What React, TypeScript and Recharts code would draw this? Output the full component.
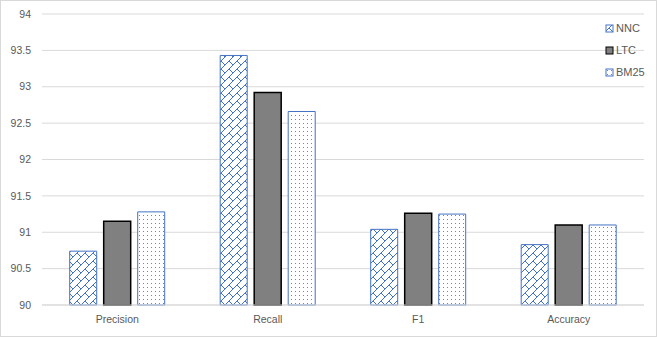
import React from 'react';
import { BarChart, Bar, XAxis, YAxis, CartesianGrid } from 'recharts';

const categories = ['Precision', 'Recall', 'F1', 'Accuracy'];
const nncValues = [90.74, 93.43, 91.04, 90.83];
const ltcValues = [91.15, 92.92, 91.26, 91.1];
const bm25Values = [91.28, 92.66, 91.25, 91.1];
const yTicks = [90, 90.5, 91, 91.5, 92, 92.5, 93, 93.5, 94];

const data = categories.map((name, i) => ({
    name,
    NNC: nncValues[i],
    LTC: ltcValues[i],
    BM25: bm25Values[i],
}));

const BLUE = '#4472C4';
const TEXT = '#595959';
const FONT = '"Liberation Sans", Arial, sans-serif';

const legendItems = [
    { key: 'NNC', fill: 'url(#brick)', stroke: BLUE },
    { key: 'LTC', fill: '#808080', stroke: '#000000' },
    { key: 'BM25', fill: 'url(#dots)', stroke: BLUE },
];

// legend drawn on top of the chart, like Excel does (it overlaps the gridlines)
const ChartLegend = () => (
    <div style={{ position: 'absolute', left: 604, top: 16, fontFamily: FONT, fontSize: 11, color: TEXT }}>
        {legendItems.map((item) => (
            <div key={item.key} style={{ display: 'flex', alignItems: 'center', height: 22 }}>
                <svg width={9} height={9} style={{ marginRight: 2 }}>
                    <rect x={1} y={1} width={7} height={7} fill={item.fill} stroke={item.stroke} strokeWidth={1} />
                </svg>
                <span>{item.key}</span>
            </div>
        ))}
    </div>
);

export default function App() {
    return (
        <div
            style={{
                position: 'fixed',
                left: 0,
                top: 0,
                width: 657,
                height: 337,
                boxSizing: 'border-box',
                border: '1px solid #d9d9d9',
                background: '#ffffff',
            }}
        >
            <BarChart
                width={655}
                height={335}
                data={data}
                margin={{ top: 13, right: 12, left: 0, bottom: 1 }}
                barCategoryGap="18.4%"
                barGap={7}
            >
                <defs>
                    <pattern id="brick" width={8} height={8} patternUnits="userSpaceOnUse">
                        <rect width={8} height={8} fill="#ffffff" />
                        <path d="M0,8 L8,0 M4,4 L8,8" stroke={BLUE} strokeWidth={1} fill="none" />
                    </pattern>
                    <pattern id="dots" width={4} height={4} patternUnits="userSpaceOnUse">
                        <rect width={4} height={4} fill="#ffffff" />
                        <rect x={2} y={2} width={1} height={1} fill="#7a8499" />
                    </pattern>
                </defs>
                <CartesianGrid vertical={false} stroke="#d9d9d9" />
                <XAxis
                    dataKey="name"
                    height={30}
                    axisLine={{ stroke: '#d9d9d9' }}
                    tickLine={false}
                    tick={{ fill: TEXT, fontSize: 10.5, fontFamily: FONT }}
                    tickMargin={5}
                />
                <YAxis
                    domain={[90, 94]}
                    ticks={yTicks}
                    width={41}
                    axisLine={false}
                    tickLine={false}
                    tickMargin={5}
                    tick={{ fill: TEXT, fontSize: 10.5, fontFamily: FONT }}
                />
                <Bar dataKey="NNC" fill="url(#brick)" stroke={BLUE} strokeWidth={1} isAnimationActive={false} />
                <Bar dataKey="LTC" fill="#808080" stroke="#000000" strokeWidth={1.5} isAnimationActive={false} />
                <Bar dataKey="BM25" fill="url(#dots)" stroke={BLUE} strokeWidth={1} isAnimationActive={false} />
            </BarChart>
            <ChartLegend />
        </div>
    );
}
